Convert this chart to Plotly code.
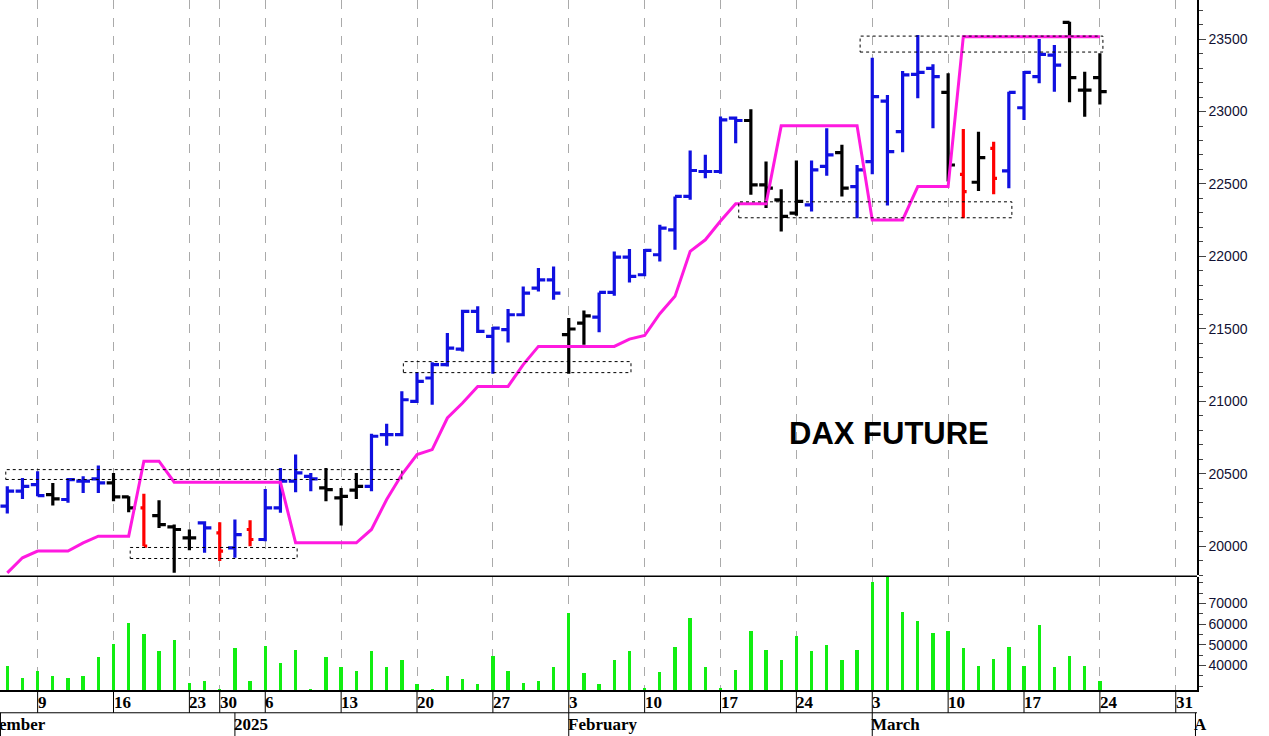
import plotly.graph_objects as go

# trading day index 0 = 5 Dec 2024 ... 72 = 24 Mar 2025
opens = [20278, 20381, 20427, 20358, 20324, 20450, 20466, 20438, 20342, 20266,
         20213, 20135, 20059, 20163, 20094, 19990, 20117, 20048, 20266, 20450,
         20484, 20404, 20335, 20388, 20415, 20771, 20771, 21001, 21162, 21254,
         21361, 21621, 21449, 21495, 21598, 21782, 21839, 21461, 21540, 21582,
         21752, 21996, 21874, 22012, 22184, 22414, 22586, 22586, 22954, 22938,
         22494, 22391, 22299, 22356, 22621, 22717, 22482, 22654, 23072, 22861,
         23256, 23297, 23132, 22567, 22512, 22746, 22590, 23026, 23240, 23389,
         23614, 23148, 23233]
highs = [20415, 20473, 20519, 20438, 20473, 20484, 20558, 20507, 20346, 20363,
         20319, 20151, 20117, 20174, 20167, 20186, 20181, 20397, 20542, 20634,
         20507, 20542, 20404, 20507, 20778, 20847, 21070, 21201, 21270, 21472,
         21633, 21656, 21513, 21637, 21793, 21920, 21931, 21575, 21628, 21752,
         22035, 22051, 22051, 22219, 22414, 22731, 22701, 22965, 22965, 23016,
         22655, 22464, 22662, 22662, 22885, 22770, 22631, 23371, 23114, 23279,
         23527, 23325, 23263, 22879, 22861, 22792, 23137, 23279, 23500, 23458,
         23619, 23274, 23401]
lows = [20227, 20328, 20346, 20282, 20301, 20369, 20369, 20312, 20236, 20002,
        20128, 19818, 19974, 19956, 19899, 19922, 20002, 20036, 20232, 20374,
        20381, 20312, 20144, 20328, 20381, 20695, 20760, 20989, 20978, 21242,
        21345, 21472, 21192, 21407, 21587, 21759, 21701, 21192, 21392, 21477,
        21730, 21821, 21863, 21966, 22046, 22391, 22540, 22570, 22781, 22425,
        22334, 22173, 22281, 22310, 22556, 22414, 22264, 22567, 22351, 22719,
        23091, 22884, 22517, 22264, 22452, 22429, 22471, 22941, 23194, 23137,
        23063, 22964, 23049]
closes = [20381, 20415, 20351, 20328, 20461, 20450, 20438, 20342, 20266, 20002,
          20151, 20117, 20059, 20128, 19968, 20082, 20048, 20266, 20450, 20507,
          20466, 20392, 20346, 20415, 20760, 20771, 21012, 21139, 21254, 21368,
          21621, 21483, 21506, 21598, 21747, 21839, 21747, 21500, 21590, 21752,
          21996, 21863, 22042, 22196, 22414, 22593, 22586, 22942, 22938, 22494,
          22471, 22276, 22380, 22598, 22701, 22471, 22597, 23102, 22723, 23252,
          23270, 23240, 22631, 22448, 22682, 22539, 23132, 23270, 23394, 23320,
          23233, 23148, 23137]
black_days = [3, 7, 8, 10, 11, 12, 21, 22, 23, 37, 38, 49, 50, 51, 52, 55, 62, 64, 70, 71, 72]
red_days = [9, 14, 16, 63, 65]

stop_line = [19818, 19922, 19968, 19968, 19968, 20025, 20071, 20071, 20071, 20588,
             20588, 20443, 20443, 20443, 20443, 20443, 20443, 20443, 20443, 20025,
             20025, 20025, 20025, 20025, 20117, 20324, 20496, 20634, 20668, 20886,
             20989, 21104, 21104, 21104, 21254, 21380, 21380, 21380, 21380, 21380,
             21380, 21430, 21455, 21605, 21725, 22035, 22115, 22245, 22363, 22363,
             22363, 22901, 22901, 22901, 22901, 22901, 22901, 22252, 22252, 22252,
             22482, 22482, 22482, 23516, 23516, 23516, 23516, 23516, 23516, 23516,
             23516, 23516, 23516]

volume = [39800, 34100, 37400, 34900, 34100, 34900, 44100, 50600, 60700, 55300,
          47000, 52400, 31400, 32500, 28800, 48300, 32300, 49600, 41300, 47500,
          28900, 44100, 39200, 37400, 47000, 39200, 42600, 30900, 28900, 34900,
          33600, 30900, 44600, 37200, 31700, 32300, 39200, 65300, 36300, 30900,
          42600, 47000, 29200, 37100, 49000, 63000, 39200, 29200, 37700, 56800,
          47500, 42600, 54500, 47000, 49800, 42600, 47500, 80400, 84000, 65800,
          61700, 56000, 56600, 48300, 39800, 43400, 49000, 39800, 59600, 39200,
          44600, 39800, 32300]

# boxes: (first day, last day, low, high)
boxes = [(-0.1, 26.0, 20462, 20530), (8.1, 19.1, 19917, 19993),
         (26.1, 41.1, 21199, 21275), (48.2, 66.2, 22267, 22377),
         (56.2, 72.2, 23410, 23520)]

price_ticks = [20000, 20500, 21000, 21500, 22000, 22500, 23000, 23500]
volume_ticks = [40000, 50000, 60000, 70000]

tick_days = [2, 7, 12, 14, 17, 22, 27, 32, 37, 42, 47, 52, 57, 62, 67, 72, 77]
tick_text = ["9", "16", "23", "30", "6", "13", "20", "27", "3", "10", "17", "24",
             "3", "10", "17", "24", "31"]
month_days = [-0.45, 15, 37, 57, 78.3]
month_text = ["ember", "2025", "February", "March", "A"]

days = list(range(len(opens)))

fig = go.Figure()

groups = {"#1010e0": [], "black": black_days, "#ff0000": red_days}
groups["#1010e0"] = [d for d in days if d not in black_days and d not in red_days]
for col, idx in groups.items():
    tw = 0.45 if col != "#ff0000" else 0.22
    fig.add_trace(go.Ohlc(
        x=idx, open=[opens[i] for i in idx], high=[highs[i] for i in idx],
        low=[lows[i] for i in idx], close=[closes[i] for i in idx],
        increasing=dict(line=dict(color=col, width=3.2)),
        decreasing=dict(line=dict(color=col, width=3.2)),
        tickwidth=tw, hoverinfo="skip", showlegend=False, yaxis="y"))

fig.add_trace(go.Scatter(x=days, y=stop_line, mode="lines",
                         line=dict(color="#ff19e0", width=3), showlegend=False, yaxis="y"))

fig.add_trace(go.Bar(x=days, y=volume, width=0.22, marker_color="#11ee11",
                     marker_line_width=0, showlegend=False, yaxis="y2"))

for x0, x1, lo, hi in boxes:
    fig.add_shape(type="rect", x0=x0, x1=x1, y0=lo, y1=hi, xref="x", yref="y",
                  line=dict(color="black", width=1, dash="dot"))

# pane separator
fig.add_shape(type="line", xref="paper", yref="paper", x0=0, x1=1, y0=0.165, y1=0.165,
              line=dict(color="black", width=1.5))

# date axis labels (two rows)
day_font = dict(family="Liberation Serif", size=17, color="black")
month_font = dict(family="Liberation Serif", size=17, color="black")
for d, t in zip(tick_days, tick_text):
    fig.add_shape(type="line", xref="x", yref="paper", x0=d, x1=d, y0=0, y1=-0.033,
                  line=dict(color="black", width=1))
    fig.add_annotation(x=d, y=-0.002, xref="x", yref="paper", text="<b>%s</b>" % t,
                       showarrow=False, xanchor="left", yanchor="top", xshift=-2, font=day_font)
fig.add_shape(type="line", xref="paper", yref="paper", x0=-0.01, x1=1, y0=-0.033, y1=-0.033,
              line=dict(color="black", width=1))
for d, t in zip(month_days, month_text):
    fig.add_shape(type="line", xref="x", yref="paper", x0=d, x1=d, y0=-0.033, y1=-0.07,
                  line=dict(color="black", width=1))
    fig.add_annotation(x=d, y=-0.033, xref="x", yref="paper", text="<b>%s</b>" % t,
                       showarrow=False, xanchor="left", yanchor="top", xshift=-3, font=month_font)

fig.add_annotation(x=58.1, y=20780, xref="x", yref="y", text="<b>DAX FUTURE</b>",
                   showarrow=False, font=dict(family="Liberation Sans", size=31, color="black"))

axis_font = dict(family="Liberation Sans", size=14, color="#111133")
fig.update_layout(
    width=1269, height=736, paper_bgcolor="white", plot_bgcolor="white",
    margin=dict(l=0, r=72, t=0, b=46),
    xaxis=dict(range=[-0.48, 78.4], rangeslider=dict(visible=False), anchor="y2",
               tickvals=tick_days, showticklabels=False, ticks="",
               showgrid=True, gridcolor="#aaaaaa", griddash="dash", gridwidth=1,
               zeroline=False, showline=True, linecolor="black", linewidth=1.5),
    yaxis=dict(domain=[0.166, 1], range=[19800, 23769], side="right",
               tickvals=price_ticks, ticktext=[str(v) for v in price_ticks],
               ticks="outside", ticklen=7, tickfont=axis_font, showgrid=False, zeroline=False,
               showline=True, linecolor="black", linewidth=1.5,
               minor=dict(dtick=100, tick0=20000, ticks="outside", ticklen=4, showgrid=False)),
    yaxis2=dict(domain=[0, 0.164], range=[28100, 82900], side="right",
                tickvals=volume_ticks, ticktext=[str(v) for v in volume_ticks],
                ticks="outside", ticklen=7, tickfont=axis_font, showgrid=False, zeroline=False,
                showline=True, linecolor="black", linewidth=1.5,
                minor=dict(dtick=5000, tick0=0, ticks="outside", ticklen=4, showgrid=False)),
    bargap=0,
)
fig.update_shapes(layer="above")

fig.write_html("out.html", config={"displayModeBar": False},
               post_script="document.body.style.margin='0';")
